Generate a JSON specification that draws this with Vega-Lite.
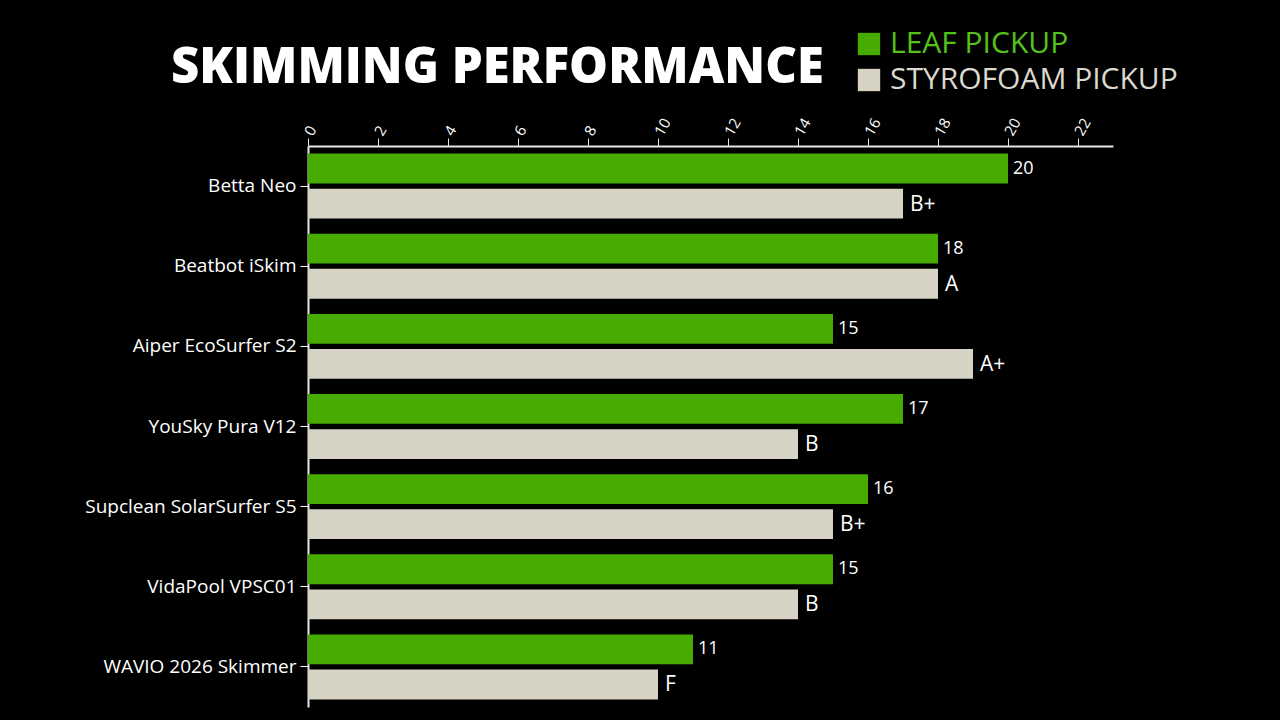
{
  "$schema": "https://vega.github.io/schema/vega-lite/v6.json",
  "autosize": {"type": "none"},
  "padding": {"left": 308, "top": 146, "right": 167, "bottom": 13},
  "width": 805,
  "height": 561,
  "background": "#000000",
  "title": {
    "text": "SKIMMING PERFORMANCE",
    "anchor": "start",
    "frame": "group",
    "dx": -137,
    "offset": -64,
    "color": "#ffffff",
    "font": "Open Sans",
    "fontSize": 49,
    "fontWeight": 800
  },
  "data": {
    "values": [
      {"model": "Betta Neo", "type": "LEAF PICKUP", "value": 20, "label": "20"},
      {"model": "Betta Neo", "type": "STYROFOAM PICKUP", "value": 17, "label": "B+"},
      {"model": "Beatbot iSkim", "type": "LEAF PICKUP", "value": 18, "label": "18"},
      {"model": "Beatbot iSkim", "type": "STYROFOAM PICKUP", "value": 18, "label": "A"},
      {"model": "Aiper EcoSurfer S2", "type": "LEAF PICKUP", "value": 15, "label": "15"},
      {"model": "Aiper EcoSurfer S2", "type": "STYROFOAM PICKUP", "value": 19, "label": "A+"},
      {"model": "YouSky Pura V12", "type": "LEAF PICKUP", "value": 17, "label": "17"},
      {"model": "YouSky Pura V12", "type": "STYROFOAM PICKUP", "value": 14, "label": "B"},
      {"model": "Supclean SolarSurfer S5", "type": "LEAF PICKUP", "value": 16, "label": "16"},
      {"model": "Supclean SolarSurfer S5", "type": "STYROFOAM PICKUP", "value": 15, "label": "B+"},
      {"model": "VidaPool VPSC01", "type": "LEAF PICKUP", "value": 15, "label": "15"},
      {"model": "VidaPool VPSC01", "type": "STYROFOAM PICKUP", "value": 14, "label": "B"},
      {"model": "WAVIO 2026 Skimmer", "type": "LEAF PICKUP", "value": 11, "label": "11"},
      {"model": "WAVIO 2026 Skimmer", "type": "STYROFOAM PICKUP", "value": 10, "label": "F"}
    ]
  },
  "encoding": {
    "y": {
      "field": "model",
      "type": "nominal",
      "sort": null,
      "title": null,
      "scale": {"paddingInner": 0.19, "paddingOuter": 0.095},
      "axis": {
        "labelColor": "#ffffff",
        "labelFont": "Open Sans",
        "labelFontSize": 19,
        "labelPadding": 4,
        "tickColor": "#ffffff",
        "tickSize": 8,
        "domainColor": "#e6e6e6",
        "domainWidth": 2,
        "labelLimit": 400
      }
    },
    "yOffset": {
      "field": "type",
      "type": "nominal",
      "scale": {"paddingInner": 0.15}
    },
    "x": {
      "field": "value",
      "type": "quantitative",
      "title": null,
      "scale": {"domain": [0, 23], "nice": false},
      "axis": {
        "orient": "top",
        "values": [0, 2, 4, 6, 8, 10, 12, 14, 16, 18, 20, 22],
        "labelAngle": -60,
        "labelAlign": "left",
        "labelBaseline": "middle",
        "labelColor": "#ffffff",
        "labelFont": "Open Sans",
        "labelFontSize": 15,
        "labelPadding": 4,
        "tickColor": "#e6e6e6",
        "tickSize": 8,
        "domainColor": "#e6e6e6",
        "domainWidth": 2,
        "grid": false
      }
    }
  },
  "layer": [
    {
      "mark": {"type": "bar"},
      "encoding": {
        "color": {
          "field": "type",
          "type": "nominal",
          "scale": {"domain": ["LEAF PICKUP", "STYROFOAM PICKUP"], "range": ["#48ab00", "#d6d2c4"]},
          "legend": {
            "title": null,
            "orient": "none",
            "legendX": 546,
            "legendY": -117,
            "symbolType": "square",
            "symbolSize": 500,
            "symbolStrokeWidth": 0,
            "symbolOpacity": 1,
            "labelFont": "Open Sans",
            "labelFontSize": 30,
            "labelOffset": 6,
            "rowPadding": 6,
            "labelLimit": 500,
            "encode": {
              "labels": {
                "update": {
                  "fill": {"signal": "datum.value === 'LEAF PICKUP' ? '#55c21a' : '#dcd8cc'"}
                }
              }
            }
          }
        }
      }
    },
    {
      "transform": [{"filter": "datum.type === 'LEAF PICKUP'"}],
      "mark": {"type": "text", "align": "left", "baseline": "middle", "dx": 5, "font": "Open Sans", "fontSize": 18, "color": "#ffffff"},
      "encoding": {
        "text": {"field": "label"}
      }
    },
    {
      "transform": [{"filter": "datum.type === 'STYROFOAM PICKUP'"}],
      "mark": {"type": "text", "align": "left", "baseline": "middle", "dx": 7, "dy": 1, "font": "Open Sans", "fontSize": 21, "color": "#ffffff"},
      "encoding": {
        "text": {"field": "label"}
      }
    }
  ],
  "config": {
    "view": {"stroke": null}
  }
}
